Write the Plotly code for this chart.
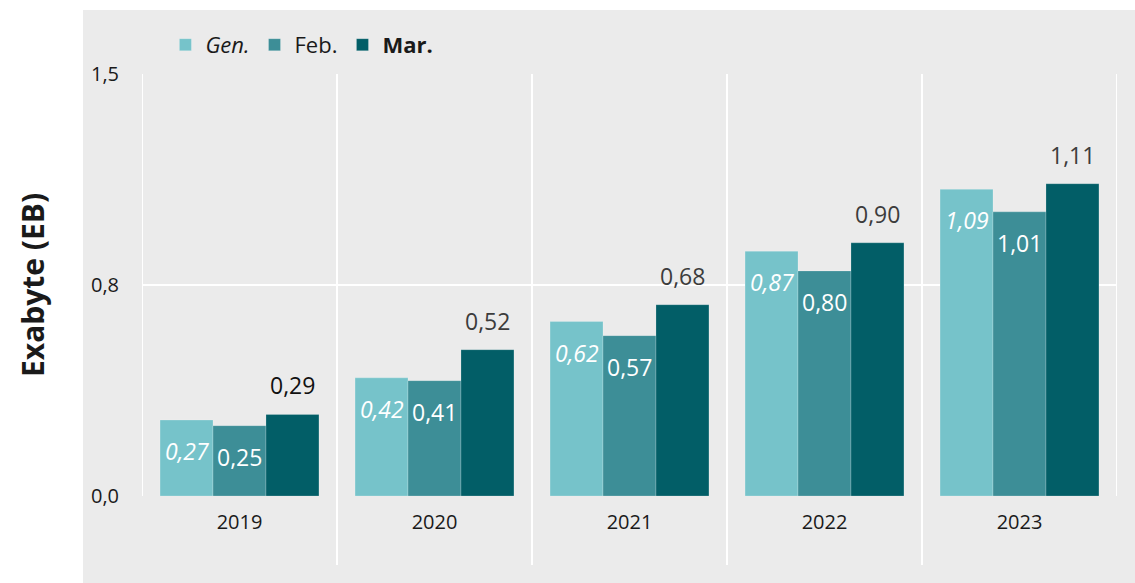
import plotly.graph_objects as go

years = ["2019", "2020", "2021", "2022", "2023"]
gen = [0.27, 0.42, 0.62, 0.87, 1.09]
feb = [0.25, 0.41, 0.57, 0.80, 1.01]
mar = [0.29, 0.52, 0.68, 0.90, 1.11]
series_names = ["<i>Gen.</i>", "Feb.", "<b>Mar.</b>"]
tick_vals = [0, 0.75, 1.5]
tick_text = ["0,0", "0,8", "1,5"]

C_GEN = "#76C3CA"
C_FEB = "#3D8E97"
C_MAR = "#025E67"
BG = "#EBEBEB"
FONT = "Open Sans"

def fmt(v):
    return f"{v:.2f}".replace(".", ",")

fig = go.Figure()
for name, vals, col in zip(series_names, [gen, feb, mar], [C_GEN, C_FEB, C_MAR]):
    fig.add_trace(go.Bar(x=years, y=vals, name=name, marker_color=col,
                         marker_line=dict(width=0.6, color="rgba(255,255,255,0.35)")))

ann = []
for i, y in enumerate(years):
    ann.append(dict(x=i, y=gen[i], xref="x", yref="y", text="<i>" + fmt(gen[i]) + "</i>",
                    showarrow=False, xshift=-53, yshift=-31,
                    font=dict(family=FONT, size=23, color="white")))
    ann.append(dict(x=i, y=feb[i], xref="x", yref="y", text=fmt(feb[i]),
                    showarrow=False, xshift=0, yshift=-31,
                    font=dict(family=FONT, size=23, color="white")))
    ann.append(dict(x=i, y=mar[i], xref="x", yref="y", text=fmt(mar[i]),
                    showarrow=False, xshift=53, yshift=29,
                    font=dict(family=FONT, size=23,
                              color="#111111" if i == 0 else "#3C3C3C")))
ann.append(dict(x=-0.1128, y=0.5, xref="paper", yref="paper", text="<b>Exabyte (EB)</b>",
                textangle=-90, showarrow=False, xanchor="center", yanchor="middle",
                font=dict(family=FONT, size=30, color="#1A1A1A")))

shapes = [dict(type="rect", xref="paper", yref="paper", x0=-0.0605, x1=1.03, y0=-0.25, y1=1.1517,
               fillcolor=BG, line=dict(width=0), layer="below")]
for xb in [0.5, 1.5, 2.5, 3.5]:
    shapes.append(dict(type="line", xref="x", yref="paper", x0=xb, x1=xb, y0=-0.1635, y1=1,
                       line=dict(color="white", width=2), layer="below"))
for xb in [-0.5, 4.5]:
    shapes.append(dict(type="line", xref="x", yref="paper", x0=xb, x1=xb, y0=0, y1=1,
                       line=dict(color="white", width=2), layer="below"))

fig.update_layout(
    width=1135, height=583,
    margin=dict(l=142, r=18, t=74, b=87),
    paper_bgcolor="white", plot_bgcolor="rgba(0,0,0,0)",
    barmode="group", bargap=0.185, bargroupgap=0,
    font=dict(family=FONT, size=20, color="#1A1A1A"),
    showlegend=True,
    legend=dict(orientation="h", x=0.024, xanchor="left", y=1.069, yanchor="middle",
                font=dict(family=FONT, size=22, color="#1A1A1A"), bgcolor="rgba(0,0,0,0)",
                traceorder="normal"),
    annotations=ann, shapes=shapes,
    xaxis=dict(type="category", showgrid=False, showline=False, zeroline=False, ticks="",
               tickfont=dict(size=20, color="#1A1A1A"), ticklabelstandoff=12,
               range=[-0.5, 4.5]),
    yaxis=dict(range=[0, 1.5], tickvals=tick_vals, ticktext=tick_text, showgrid=True,
               gridcolor="white", gridwidth=2, zeroline=False, showline=False,
               tickfont=dict(size=20, color="#1A1A1A"), ticklabelstandoff=22),
)
fig.write_html("out.html", config={"displayModeBar": False},
               post_script="document.body.style.margin='0';")
